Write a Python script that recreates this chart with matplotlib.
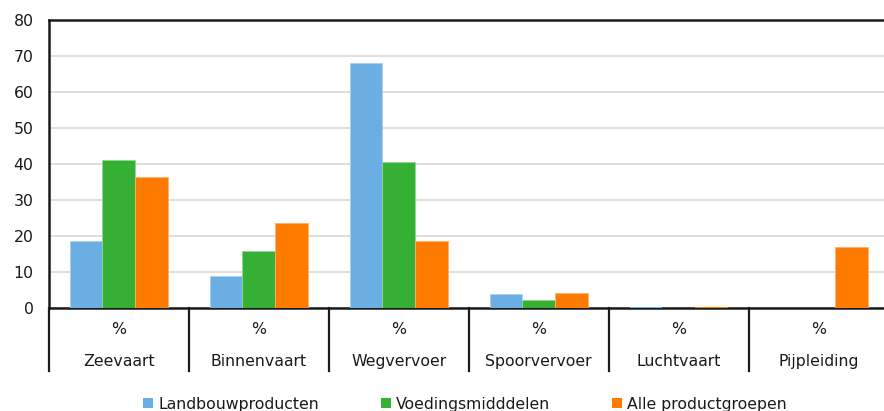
import matplotlib
matplotlib.use("Agg")
import matplotlib.pyplot as plt
import matplotlib.transforms as mtransforms
from matplotlib.patches import Patch
import numpy as np

plt.rcParams['font.family'] = ['DejaVu Sans']

categories = ["Zeevaart", "Binnenvaart", "Wegvervoer", "Spoorvervoer", "Luchtvaart", "Pijpleiding"]
unit_labels = ["%", "%", "%", "%", "%", "%"]
series_names = ["Landbouwproducten", "Voedingsmidddelen", "Alle productgroepen"]
landbouw = [18.5, 8.9, 68.0, 3.9, 0.2, 0.0]
voeding = [41.1, 15.7, 40.5, 2.1, 0.0, 0.0]
alle = [36.4, 23.6, 18.5, 4.1, 0.2, 17.0]
yticks = [0, 10, 20, 30, 40, 50, 60, 70, 80]

colors = ["#6AAEE3", "#35B035", "#FF7B00"]
edges = ["#A9D0F0", "#8FD88F", "#FFB070"]

fig = plt.figure(figsize=(8.84, 4.11), dpi=100)
W, H = 884, 411
ax = fig.add_axes([48.7 / W, 103 / H, 840 / W, 288 / H])

x = np.arange(len(categories))
bw = 0.7 / 3
for i, (vals, c, ec) in enumerate(zip([landbouw, voeding, alle], colors, edges)):
    lws = [0.6 if v > 0.5 else 0.0 for v in vals]
    ax.bar(x + (i - 1) * bw, vals, width=bw, color=c, edgecolor=ec, linewidth=lws,
           label=series_names[i], zorder=3)

ax.set_xlim(-0.5, len(categories) - 0.5)
ax.set_ylim(0, 80)
ax.set_yticks(yticks)
ax.set_yticklabels([str(t) for t in yticks], fontsize=11.3, color="#1a1a1a")
ax.tick_params(axis='y', length=0, pad=11)
ax.set_xticks([])
ax.yaxis.grid(True, color="#D9D9D9", linewidth=1.2, zorder=0)
ax.set_axisbelow(True)

for s in ["left", "top", "bottom"]:
    ax.spines[s].set_color("#1a1a1a")
    ax.spines[s].set_linewidth(1.8)
ax.spines["right"].set_visible(False)

trans = mtransforms.blended_transform_factory(ax.transData, ax.transAxes)
y_sep = -(371 - 308) / 288
for b in np.arange(-0.5, len(categories), 1.0):
    ax.plot([b, b], [0, y_sep], transform=trans, color="#1a1a1a", linewidth=1.6,
            clip_on=False, zorder=5)

y_unit = -(330 - 308) / 288
y_name = -(361.5 - 308) / 288
for xi, (u, name) in enumerate(zip(unit_labels, categories)):
    ax.text(xi, y_unit, u, transform=trans, ha="center", va="center", fontsize=11.3,
            color="#1a1a1a")
    ax.text(xi, y_name, name, transform=trans, ha="center", va="center", fontsize=11.3,
            color="#1a1a1a")

handles = [Patch(facecolor=c, edgecolor="none") for c in colors]
fig.legend(handles, series_names, loc="center", bbox_to_anchor=(465 / W, 7 / H),
           ncol=3, frameon=False, fontsize=11.3, handlelength=0.65, handleheight=0.65,
           handletextpad=0.35, columnspacing=3.9, labelcolor="#1a1a1a",
           borderpad=0.1)

fig.savefig("out.png", dpi=100)
